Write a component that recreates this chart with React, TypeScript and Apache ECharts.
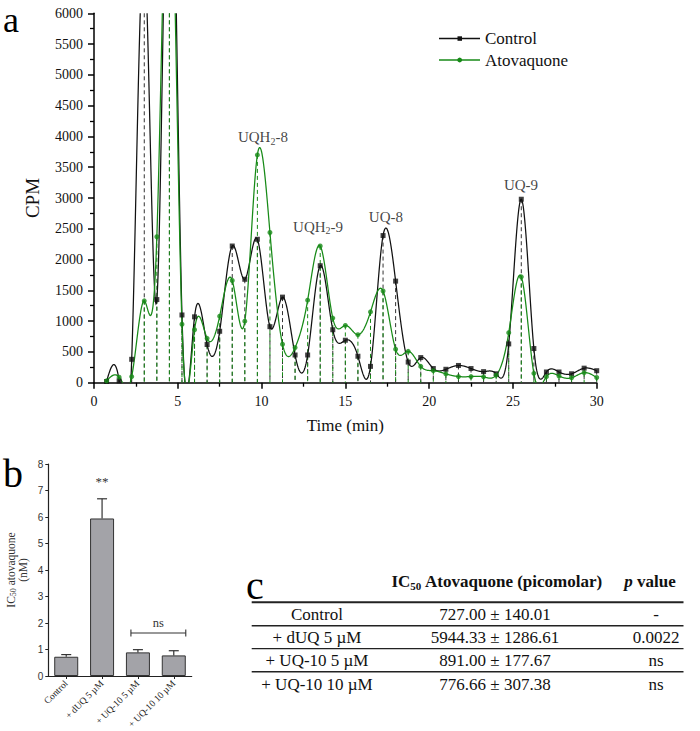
import React, { useEffect, useRef } from "react";
import * as echarts from "echarts";

const SERIF = "'Liberation Serif', 'Times New Roman', serif";
const SANS = "'Liberation Sans', Arial, sans-serif";

// ---------- Panel a: radioactivity (CPM) per HPLC fraction ----------
const times = [0.75, 1.5, 2.25, 3, 3.75, 4.5, 5.25, 6, 6.75, 7.5, 8.25, 9, 9.75, 10.5, 11.25, 12, 12.75, 13.5, 14.25, 15, 15.75, 16.5, 17.25, 18, 18.75, 19.5, 20.25, 21, 21.75, 22.5, 23.25, 24, 24.75, 25.5, 26.25, 27, 27.75, 28.5, 29.25, 30];
const controlCPM = [20, 30, 380, 7000, 1350, 10000, 1100, 1070, 620, 835, 2220, 1680, 2330, 910, 1390, 450, 450, 1900, 860, 690, 430, 265, 2390, 1650, 335, 408, 230, 218, 280, 230, 180, 145, 630, 2980, 555, 174, 174, 145, 236, 195];
const atovaquoneCPM = [30, 90, 100, 1330, 2370, 9000, 950, 860, 720, 1080, 1660, 1000, 3700, 2440, 625, 570, 1340, 2220, 1050, 930, 780, 1150, 1490, 545, 510, 265, 195, 143, 100, 100, 95, 122, 812, 1720, 152, 98, 109, 80, 163, 85];
const peakNames = ["UQH2-8", "UQH2-9", "UQ-8", "UQ-9"];
const peakTimes = [10.08, 13.37, 17.42, 25.48];
const peakCPM = [3990, 2529, 2691, 3209];
const Y_MAX = 6000;

// ---------- Panel b: IC50 bars ----------
const bCategories = ["Control", "+ dUQ 5 µM", "+ UQ-10 5 µM", "+ UQ-10 10 µM"];
const bValues = [0.727, 5.944, 0.891, 0.777];
const bErrors = [0.081, 0.743, 0.103, 0.177];
const bSignif = ["", "**", "", ""];
const nsGroup = [2, 3];
const nsLevel = 1.62;

// ---------- Panel c: table ----------
const tableRows = ["Control", "+ dUQ 5 µM", "+ UQ-10 5 µM", "+ UQ-10 10 µM"];
const tableIC50 = ["727.00 ± 140.01", "5944.33 ± 1286.61", "891.00 ± 177.67", "776.66 ± 307.38"];
const tablePValues = ["-", "0.0022", "ns", "ns"];

const BLACK = "#111111";
const GREEN = "#178a17";

// natural cubic spline (Origin-style "spline" connection)
function splineSecond(xs: number[], ys: number[]) {
  const n = xs.length;
  const M = new Array(n).fill(0);
  if (n < 3) return M;
  const a: number[] = [], b: number[] = [], c: number[] = [], d: number[] = [];
  for (let i = 1; i < n - 1; i++) {
    const h0 = xs[i] - xs[i - 1], h1 = xs[i + 1] - xs[i];
    a.push(h0); b.push(2 * (h0 + h1)); c.push(h1);
    d.push(6 * ((ys[i + 1] - ys[i]) / h1 - (ys[i] - ys[i - 1]) / h0));
  }
  const m = n - 2;
  const cp = new Array(m), dp = new Array(m);
  cp[0] = c[0] / b[0]; dp[0] = d[0] / b[0];
  for (let i = 1; i < m; i++) {
    const den = b[i] - a[i] * cp[i - 1];
    cp[i] = c[i] / den;
    dp[i] = (d[i] - a[i] * dp[i - 1]) / den;
  }
  const sol = new Array(m);
  sol[m - 1] = dp[m - 1];
  for (let i = m - 2; i >= 0; i--) sol[i] = dp[i] - cp[i] * sol[i + 1];
  for (let i = 0; i < m; i++) M[i + 1] = sol[i];
  return M;
}
function sampleSpline(xs: number[], ys: number[], steps: number) {
  const M = splineSecond(xs, ys);
  const pts: number[][] = [];
  for (let i = 0; i < xs.length - 1; i++) {
    const h = xs[i + 1] - xs[i];
    for (let s = 0; s < steps; s++) {
      const x = xs[i] + (h * s) / steps;
      const A = xs[i + 1] - x, B = x - xs[i];
      const y = (M[i] * A * A * A) / (6 * h) + (M[i + 1] * B * B * B) / (6 * h) + (ys[i] / h - (M[i] * h) / 6) * A + (ys[i + 1] / h - (M[i + 1] * h) / 6) * B;
      pts.push([x, y]);
    }
  }
  pts.push([xs[xs.length - 1], ys[ys.length - 1]]);
  return pts;
}
function clipY(pts: number[][], lo: number, hi: number) {
  const lines: number[][][] = [];
  let cur: number[][] = [];
  const flush = () => { if (cur.length > 1) lines.push(cur); cur = []; };
  for (let i = 0; i < pts.length - 1; i++) {
    const [x0, y0] = pts[i], [x1, y1] = pts[i + 1];
    const dy = y1 - y0;
    let t0 = 0, t1 = 1;
    if (dy === 0) {
      if (y0 < lo || y0 > hi) { flush(); continue; }
    } else {
      const ta = (lo - y0) / dy, tb = (hi - y0) / dy;
      t0 = Math.max(0, Math.min(ta, tb));
      t1 = Math.min(1, Math.max(ta, tb));
      if (t0 > t1) { flush(); continue; }
    }
    const p0 = [x0 + (x1 - x0) * t0, y0 + dy * t0];
    const p1 = [x0 + (x1 - x0) * t1, y0 + dy * t1];
    if (t0 > 0) flush();
    if (cur.length === 0) cur.push(p0);
    cur.push(p1);
    if (t1 < 1) flush();
  }
  flush();
  return lines;
}

const controlLines = clipY(sampleSpline(times, controlCPM, 30), 0, Y_MAX);
const atovaquoneLines = clipY(sampleSpline(times, atovaquoneCPM, 30), 0, Y_MAX);

function curveSeries(name: string, values: number[], lines: number[][][], color: string, z: number) {
  return {
    type: "custom",
    name,
    xAxisIndex: 0,
    yAxisIndex: 0,
    z,
    silent: true,
    data: times.map((t, i) => [t, values[i]]),
    renderItem: (params: any, api: any) => {
      if (params.dataIndex !== 0) return null;
      return {
        type: "group",
        children: lines.map((l) => ({
          type: "polyline",
          shape: { points: l.map((p) => api.coord(p)) },
          style: { stroke: color, lineWidth: 1.25, fill: "none" },
        })),
      };
    },
  };
}
function dropSeries(values: number[], color: string, z: number) {
  return {
    type: "custom",
    xAxisIndex: 0,
    yAxisIndex: 0,
    z,
    silent: true,
    data: times.map((t, i) => [t, values[i]]),
    renderItem: (params: any, api: any) => {
      const t = api.value(0), v = api.value(1);
      const top = api.coord([t, Math.min(v, Y_MAX)]);
      const bot = api.coord([t, 0]);
      return {
        type: "line",
        shape: { x1: top[0], y1: top[1], x2: bot[0], y2: bot[1] },
        style: { stroke: color, lineWidth: 1, lineDash: [4, 3] },
      };
    },
  };
}

const peakRich = (name: string) => "{n|" + name.replace("H2", "H}{s|2}{n|") + "}";

const tableColX = [317, 495, 656];
const tableRowY = [614, 637.7, 660.7, 684];
const ruleY = [625.8, 648.6, 671.8];

function buildGraphics() {
  const g: any[] = [];
  // panel letters
  g.push({ type: "text", x: 3, y: 20, style: { text: "a", fontSize: 36, fontFamily: SERIF, fill: "#000", align: "left", verticalAlign: "middle" } });
  g.push({ type: "text", x: 3, y: 473, style: { text: "b", fontSize: 40, fontFamily: SERIF, fill: "#000", align: "left", verticalAlign: "middle" } });
  g.push({ type: "text", x: 246, y: 585, style: { text: "c", fontSize: 40, fontFamily: SERIF, fill: "#000", align: "left", verticalAlign: "middle" } });
  // legend
  g.push({ type: "line", shape: { x1: 439, y1: 38.5, x2: 480, y2: 38.5 }, style: { stroke: BLACK, lineWidth: 1.3 } });
  g.push({ type: "rect", shape: { x: 457.5, y: 36.3, width: 4.5, height: 4.5 }, style: { fill: BLACK } });
  g.push({ type: "text", x: 485, y: 38.5, style: { text: "Control", fontSize: 17, fontFamily: SERIF, fill: "#111", align: "left", verticalAlign: "middle" } });
  g.push({ type: "line", shape: { x1: 439, y1: 60, x2: 480, y2: 60 }, style: { stroke: GREEN, lineWidth: 1.3 } });
  g.push({ type: "circle", shape: { cx: 459.7, cy: 60, r: 2.4 }, style: { fill: GREEN } });
  g.push({ type: "text", x: 485, y: 60, style: { text: "Atovaquone", fontSize: 17, fontFamily: SERIF, fill: "#111", align: "left", verticalAlign: "middle" } });
  // table header
  g.push({
    type: "text", x: tableColX[1] + 2, y: 581.5,
    style: {
      text: "{b|IC}{s|50}{b| Atovaquone (picomolar)}", align: "center", verticalAlign: "middle",
      rich: {
        b: { fontSize: 17, fontWeight: "bold", fontFamily: SERIF, fill: "#111", lineHeight: 20 },
        s: { fontSize: 11, fontWeight: "bold", fontFamily: SERIF, fill: "#111", lineHeight: 11, padding: [8, 0, 0, 0] },
      },
    },
  });
  g.push({
    type: "text", x: 650, y: 581.5,
    style: {
      text: "{i|p}{b| value}", align: "center", verticalAlign: "middle",
      rich: {
        i: { fontSize: 17, fontWeight: "bold", fontStyle: "italic", fontFamily: SERIF, fill: "#111", lineHeight: 20 },
        b: { fontSize: 17, fontWeight: "bold", fontFamily: SERIF, fill: "#111", lineHeight: 20 },
      },
    },
  });
  // rules
  g.push({ type: "line", shape: { x1: 251.7, y1: 602.3, x2: 683.5, y2: 602.3 }, style: { stroke: "#222", lineWidth: 2 } });
  ruleY.forEach((y) => g.push({ type: "line", shape: { x1: 251.7, y1: y, x2: 683.5, y2: y }, style: { stroke: "#222", lineWidth: 1.4 } }));
  // rows
  tableRows.forEach((r, i) => {
    const y = tableRowY[i];
    [r, tableIC50[i], tablePValues[i]].forEach((txt, j) => {
      g.push({ type: "text", x: tableColX[j], y, style: { text: txt, fontSize: 17, fontFamily: SERIF, fill: "#111", align: "center", verticalAlign: "middle" } });
    });
  });
  return g;
}

function buildOption() {
  const axisLine = { show: true, onZero: false, lineStyle: { color: "#000", width: 1.5 } };
  return {
    animation: false,
    backgroundColor: "#ffffff",
    grid: [
      { left: 94, top: 13.3, width: 502.7, height: 369.4, outerBoundsMode: "none", containLabel: false },
      { left: 48.3, top: 464, width: 143.4, height: 212, outerBoundsMode: "none", containLabel: false },
    ],
    xAxis: [
      {
        type: "value", gridIndex: 0, min: 0, max: 30, interval: 5,
        axisLine,
        axisTick: { show: true, inside: false, length: 6, lineStyle: { color: "#000", width: 1.5 } },
        minorTick: { show: true, splitNumber: 2, length: 4, lineStyle: { color: "#000", width: 1.3 } },
        splitLine: { show: false },
        minorSplitLine: { show: false },
        axisLabel: { fontFamily: SERIF, fontSize: 14, color: "#111", margin: 12, formatter: (v: number) => String(v) },
        name: "Time (min)", nameLocation: "middle", nameGap: 34,
        nameTextStyle: { fontFamily: SERIF, fontSize: 17, color: "#111" },
      },
      {
        type: "category", gridIndex: 1, data: bCategories,
        axisLine: { show: true, lineStyle: { color: "#222", width: 1.2 } },
        axisTick: { show: true, alignWithLabel: true, length: 3, lineStyle: { color: "#222" } },
        splitLine: { show: false },
        axisLabel: { interval: 0, rotate: 45, fontFamily: SERIF, fontSize: 9.5, color: "#222", margin: 6 },
      },
    ],
    yAxis: [
      {
        type: "value", gridIndex: 0, min: 0, max: Y_MAX, interval: 500,
        axisLine,
        axisTick: { show: true, inside: false, length: 6, lineStyle: { color: "#000", width: 1.5 } },
        minorTick: { show: true, splitNumber: 2, length: 4, lineStyle: { color: "#000", width: 1.3 } },
        splitLine: { show: false },
        minorSplitLine: { show: false },
        axisLabel: { fontFamily: SERIF, fontSize: 14, color: "#111", margin: 11, formatter: (v: number) => String(v) },
        name: "CPM", nameLocation: "middle", nameGap: 52, nameRotate: 90,
        nameTextStyle: { fontFamily: SERIF, fontSize: 19, color: "#111" },
      },
      {
        type: "value", gridIndex: 1, min: 0, max: 8, interval: 1,
        axisLine: { show: true, lineStyle: { color: "#222", width: 1.2 } },
        axisTick: { show: true, length: 3, lineStyle: { color: "#222" } },
        splitLine: { show: false },
        axisLabel: { fontFamily: SANS, fontSize: 10, color: "#333", margin: 5, formatter: (v: number) => String(v) },
        name: "{a|IC}{s|50}{a| atovaquone}\n{a|(nM)}", nameLocation: "middle", nameGap: 19, nameRotate: 90,
        nameTextStyle: {
          color: "#333",
          rich: {
            a: { fontFamily: SERIF, fontSize: 11.5, color: "#333", lineHeight: 12, align: "center" },
            s: { fontFamily: SERIF, fontSize: 8, color: "#333", lineHeight: 8, padding: [5, 0, 0, 0] },
          },
        },
      },
    ],
    series: [
      dropSeries(controlCPM, "#333333", 1),
      dropSeries(atovaquoneCPM, GREEN, 2),
      curveSeries("Control", controlCPM, controlLines, BLACK, 3),
      curveSeries("Atovaquone", atovaquoneCPM, atovaquoneLines, GREEN, 4),
      {
        type: "scatter", name: "Control markers", xAxisIndex: 0, yAxisIndex: 0, z: 5, clip: true,
        symbol: "rect", symbolSize: 5, itemStyle: { color: BLACK },
        data: times.map((t, i) => [t, controlCPM[i]]),
      },
      {
        type: "scatter", name: "Atovaquone markers", xAxisIndex: 0, yAxisIndex: 0, z: 6, clip: true,
        symbol: "circle", symbolSize: 5, itemStyle: { color: GREEN },
        data: times.map((t, i) => [t, atovaquoneCPM[i]]),
      },
      {
        type: "scatter", name: "peaks", xAxisIndex: 0, yAxisIndex: 0, z: 7, silent: true,
        symbolSize: 0, itemStyle: { color: "transparent" },
        data: peakTimes.map((t, i) => [t, peakCPM[i]]),
        label: {
          show: true, position: "inside",
          formatter: (p: any) => peakRich(peakNames[p.dataIndex]),
          rich: {
            n: { fontFamily: SERIF, fontSize: 15, color: "#111", lineHeight: 20 },
            s: { fontFamily: SERIF, fontSize: 10, color: "#111", lineHeight: 10, padding: [8, 0, 0, 0] },
          },
        },
      },
      {
        type: "bar", xAxisIndex: 1, yAxisIndex: 1, barWidth: 24, z: 2,
        itemStyle: { color: "#a3a3a8", borderColor: "#333", borderWidth: 1 },
        data: bValues,
      },
      {
        type: "custom", xAxisIndex: 1, yAxisIndex: 1, z: 3, silent: true,
        data: bValues.map((v, i) => [i, v, bErrors[i]]),
        renderItem: (params: any, api: any) => {
          const i = api.value(0), v = api.value(1), e = api.value(2);
          const p0 = api.coord([i, v]);
          const p1 = api.coord([i, v + e]);
          const children: any[] = [
            { type: "line", shape: { x1: p0[0], y1: p0[1], x2: p1[0], y2: p1[1] }, style: { stroke: "#333", lineWidth: 1.2 } },
            { type: "line", shape: { x1: p1[0] - 5, y1: p1[1], x2: p1[0] + 5, y2: p1[1] }, style: { stroke: "#333", lineWidth: 1.2 } },
          ];
          const sig = bSignif[params.dataIndex];
          if (sig) {
            children.push({ type: "text", x: p1[0], y: p1[1] - 17, style: { text: sig, fontFamily: SERIF, fontSize: 13, fill: "#333", align: "center", verticalAlign: "middle" } });
          }
          return { type: "group", children };
        },
      },
      {
        type: "custom", xAxisIndex: 1, yAxisIndex: 1, z: 3, silent: true,
        data: [[nsGroup[0], nsGroup[1], nsLevel]],
        renderItem: (params: any, api: any) => {
          const a = api.coord([api.value(0), api.value(2)]);
          const b = api.coord([api.value(1), api.value(2)]);
          const xl = a[0] - 7, xr = b[0] + 12, y = a[1];
          return {
            type: "group",
            children: [
              { type: "line", shape: { x1: xl, y1: y, x2: xr, y2: y }, style: { stroke: "#333", lineWidth: 1.1 } },
              { type: "line", shape: { x1: xl, y1: y - 3.5, x2: xl, y2: y + 3.5 }, style: { stroke: "#333", lineWidth: 1.1 } },
              { type: "line", shape: { x1: xr, y1: y - 3.5, x2: xr, y2: y + 3.5 }, style: { stroke: "#333", lineWidth: 1.1 } },
              { type: "text", x: (xl + xr) / 2, y: y - 10, style: { text: "ns", fontFamily: SERIF, fontSize: 12.5, fill: "#333", align: "center", verticalAlign: "middle" } },
            ],
          };
        },
      },
    ],
    graphic: buildGraphics(),
  };
}

export default function App() {
  const ref = useRef<HTMLDivElement>(null);
  useEffect(() => {
    if (!ref.current) return;
    const chart = echarts.init(ref.current, undefined, { renderer: "svg" });
    chart.setOption(buildOption() as any);
    return () => chart.dispose();
  }, []);
  return <div ref={ref} style={{ position: "absolute", left: 0, top: 0, width: 700, height: 731, background: "#fff" }} />;
}
